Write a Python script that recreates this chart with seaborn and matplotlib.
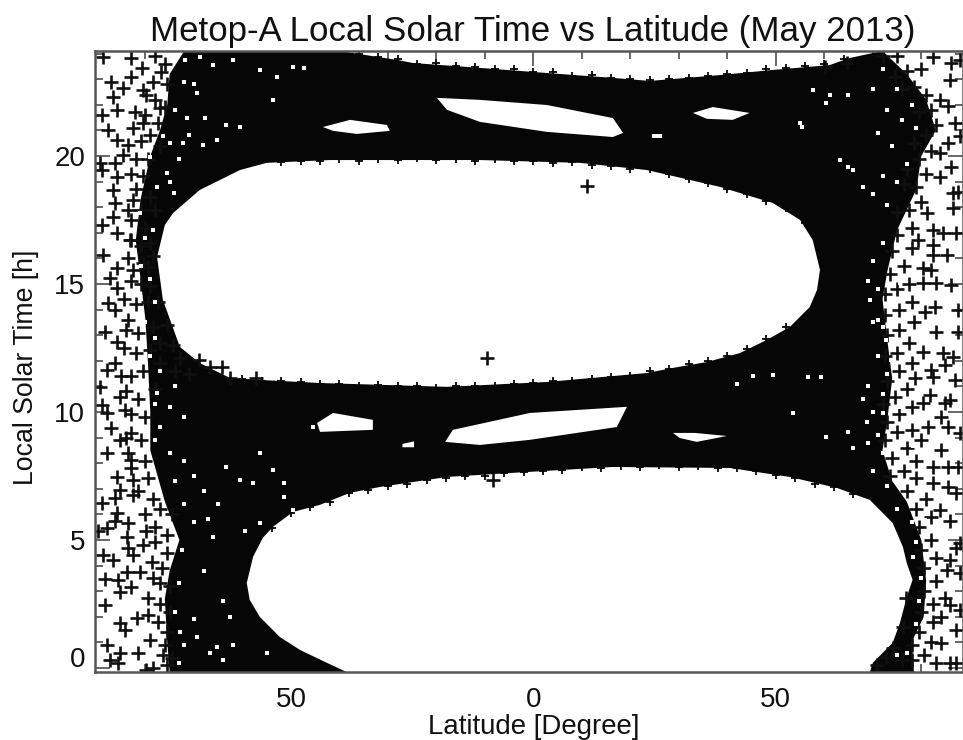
import matplotlib
matplotlib.use("Agg")
import matplotlib.pyplot as plt
import seaborn as sns
import pandas as pd

######## Values (lat in degree, lst in hours)
#! outline of the solid black swath
outer_lat = [-72.0,-39.9,-28.1,-24.8,-11.0,2.8,16.4,24.0,38.5,49.4,61.1,65.3,72.0,77.0,81.0,83.0,80.0,79.0,75.0,73.0,72.0,73.0,74.0,73.0,72.0,74.0,77.0,80.0,81.0,80.5,78.0,78.5,-75.0,-75.5,-76.0,-75.0,-73.0,-76.0,-79.0,-79.0,-79.5,-80.0,-81.0,-82.0,-81.0,-79.0,-77.0,-75.5,-75.0]
outer_lst = [24.1,24.1,23.75,23.63,23.44,23.24,23.05,22.93,23.16,23.36,23.55,23.83,24.1,23.2,22.2,21.0,20.0,18.7,17.1,15.5,14.4,12.8,11.3,9.7,8.5,7.3,6.5,5.0,3.4,2.0,1.0,-0.16,-0.16,1.0,2.7,3.8,5.0,6.5,8.5,10.0,12.0,13.6,15.2,16.7,18.3,20.0,21.0,22.0,23.2]

#! empty areas
upper_lat = [-77.6,-76.0,-74.3,-68.8,-60.5,-55.0,-42.0,-27.5,-11.0,9.6,23.4,38.5,49.4,55.0,57.6,59.1,58.5,57.0,52.9,48.1,42.6,35.8,28.8,23.4,2.8,-17.8,-44.0,-56.4,-62.6,-68.8,-72.9,-76.4]
upper_lst = [16.05,17.3,17.77,18.67,19.45,19.73,19.84,19.84,19.84,19.73,19.45,18.79,18.16,17.5,16.72,15.55,14.77,14.1,13.32,12.81,12.3,11.95,11.72,11.52,11.17,10.98,11.13,11.25,11.33,11.91,12.54,14.38]
lower_lat = [-59.1,-57.8,-55.8,-53.7,-49.6,-44.0,-37.8,-31.6,-17.8,-4.2,16.4,40.5,52.9,62.6,69.4,74.1,76.2,77.0,78.2,77.0,75.6,74.1,70.0,69.4,-38.5,-42.6,-48.1,-52.3,-56.4,-58.5]
lower_lst = [3.32,4.34,5.08,5.51,6.09,6.37,6.84,7.07,7.46,7.62,7.85,7.81,7.46,7.03,6.56,5.66,4.73,4.1,3.44,2.77,1.76,0.98,0.2,-0.16,-0.16,0.2,0.7,1.21,1.99,2.66]
hole_lat = [
    [-19.9,-11.0,2.8,16.4,18.5,16.4,2.8,-11.0,-17.8],
    [-43.4,-37.8,-30.2,-29.6,-36.4,-41.3],
    [32.9,37.0,44.6,41.1,35.8],
    [24.4,26.5,26.5,24.4],
    [-18.2,-16.6,-0.7,19.3,17.2,-0.7,-11.0],
    [-44.6,-41.3,-33.1,-33.1,-44.0],
    [-27.0,-24.6,-24.6,-27.0],
    [28.8,33.3,39.9,33.7,30.2],
]
hole_lst = [
    [22.27,22.19,21.99,21.48,20.9,20.74,20.94,21.33,21.8],
    [21.13,21.41,21.21,20.98,20.86,20.98],
    [21.68,21.91,21.68,21.41,21.45],
    [20.86,20.86,20.7,20.7],
    [8.83,9.3,9.96,10.2,9.41,8.91,8.71],
    [9.57,9.96,9.69,9.3,9.22],
    [8.75,8.85,8.62,8.62],
    [9.18,9.18,9.06,8.83,8.98],
]

#! single crosses on the left side
left_lat = [-88.7,-82.9,-80.8,-76.7,-82.9,-87.0,-84.6,-80.4,-86.6,-79.8,-85.9,-82.2,-89.0,-77.0,-87.7,-82.5,-85.9,-80.4,-83.5,-84.6,-89.4,-86.3,-89.0,-85.9,-86.6,-86.3,-82.5,-89.0,-86.6,-82.9,-85.9,-83.2,
            -88.7,-85.9,-82.5,-87.3,-85.9,-87.7,-86.3,-83.5,-88.4,-85.9,-86.3,-88.0,-89.4,-85.3,-88.0,-89.0,-84.2,-87.0,-82.9,-85.3,-88.0,-82.9,-85.9,-82.5,-85.3,-82.5,
            -75.6,-74.3,-72.9,-68.9,-66.7,-64.3,-62.6,-57.1,-77.4,-79.4,
            -89.0,-86.3,-85.9,-83.5,-86.3,-88.0,-89.7,-79.8,-83.9,-80.4,-83.5,-88.7,-86.6,-82.5,-78.7,-75.6,-83.9,-88.4,-81.1,-85.6,-82.9,-85.3,-77.0,-79.4,-88.4,-81.8,-79.4,-85.3,-84.2,-79.1,-88.0,-87.3,-85.3,-81.5,-85.6,-78.4,-76.3,-79.8,
            -78,-76,-78.5,-75.5,-78,-76,-80,-77.5,-79,-81,-77,-82,-79.5,-83,-80.5,-82,-79,-81,-78,-83.5,-80,-83,-81,-79,-83.5,-80.5,-78.5,-83,-81,-79,-84.5,-82,-79.5,-84,-81.5,-78.5,-84.5,-82,-79,-77,-85,-83,-80.5,-77,-74,-71,-84,-81.5,-78,-83,-80,-84,-81,-83.5,-80,-83,-79.5,-81.5,-78.5,-80,-77,-74.5,-78,-75.5,-78,-76.5,-78.5,-75,-77,-75,-77.5,-75.5,-76,-74.5,-75.5]
left_lst = [23.88,23.81,23.42,23.29,23.1,22.9,22.64,22.58,22.32,22.38,21.8,21.73,21.6,21.86,21.02,21.08,20.63,21.28,20.43,20.04,19.71,19.71,19.45,19.19,18.67,18.15,18.28,17.3,17.63,17.5,16.98,16.72,
            16.13,15.61,15.55,15.22,14.83,14.24,13.98,13.59,13.14,12.75,11.9,11.64,10.99,10.6,9.95,10.27,10.08,9.36,9.17,8.91,8.39,8.13,7.47,7.34,6.95,6.76,
            13.4,12.62,12.1,12.03,11.77,11.77,11.31,11.31,14.31,15.68,
            6.46,6.63,6.04,5.65,5.72,5.46,5.33,5.33,5.13,4.8,4.67,4.41,4.22,4.41,4.15,4.48,3.76,3.46,3.76,3.44,3.18,2.98,3.31,2.72,2.46,1.94,2.07,1.74,1.48,1.09,0.9,0.31,0.57,0.57,0.18,-0.01,0.51,-0.08,
            23.9,23.6,22.9,22.8,22.2,21.9,21.6,21.3,20.8,20.6,20.4,19.9,19.9,19.3,19.2,18.7,18.4,17.9,17.9,17.9,17.2,16.7,16.5,16.6,16.0,15.8,16.1,15.1,15,14.9,14.4,14.2,14.3,13.2,13.1,13.3,12.5,12.3,12.4,12.7,11.4,11.4,11.6,11.9,11.6,11.5,10.8,10.5,10.9,9.9,9.8,9.0,8.9,8.4,8.1,7.8,7.4,6.9,6.6,6,6.2,6,5.5,5.2,4.9,3.9,3.5,3.2,2.5,2.2,1.8,1.4,0.9,0.4,0.1]

#! single crosses on the right side
right_lat = [64.6,60.1,86.2,82.4,87.9,85.9,83.8,85.5,86.9,87.9,85.5,83.8,86.2,83.8,86.5,87.6,86.5,81.1,82.4,84.5,79.3,87.2,82.4,
             85.2,82.4,80.4,82.1,86.2,83.1,80.4,82.8,87.6,80.7,83.1,87.6,80.4,84.5,86.6,84.8,82.1,82.4,86.9,78.7,81.7,85.9,80.4,84.8,84.1,81.4,85.5,87.9,84.1,82.4,85.5,87.6,82.4,85.5,
             87.2,83.8,85.9,87.9,87.2,85.9,87.9,85.2,84.8,87.9,85.9,84.1,87.2,84.1,85.9,87.2,76.9,76.2,74.2,72.8,70.8,
             72,75,77,74.5,80,78.5,81,76,82,79.5,83,81,78.5,82,79.5,77,81,79,76.5,80,77.5,75,78,75,78,74,76.5,73.5,77.5,75,72.5,78,75.5,72.5,78.5,75.5,73,77.5,75,72.5,78,75.5,73,77,74.5,72,78,75.5,73,78,75,72.5,80,77,74,79,76.5,73.5,79,77,81,79,82,79.5,82,80,83,80.5,83,80.5,82.5,80,82.5,79.5,82,78,80.5,78,83,76]
right_lst = [23.62,23.49,23.62,23.88,23.75,22.97,22.19,21.95,21.28,20.77,20.5,20.1,19.58,19.19,18.54,18.61,17.96,17.76,17.11,16.98,16.72,16.98,16.52,
             16.13,16.13,15.61,15.55,14.96,15.03,15.03,14.11,13.98,13.92,13.14,13.14,12.36,12.29,12.16,11.84,11.64,11.38,11.25,11.31,10.66,10.47,10.34,10.34,9.82,9.43,9.43,9.17,8.52,7.86,7.86,7.86,7.21,7.08,
             6.82,6.17,5.72,4.87,4.67,4.22,3.7,3.83,2.72,2.27,2.46,2.0,1.48,0.96,0.18,0.18,2.72,1.61,0.77,0.44,0.12,
             23.9,23.9,23.3,23.1,23.4,22.7,22.4,22.6,21.8,21.7,21.2,20.8,20.5,20.2,19.9,19.5,19.3,18.8,18.9,18.2,17.9,17.8,17.2,16.9,16.4,16.3,15.7,15.4,15,14.8,14.6,14.3,14,13.8,13.5,13.2,13,12.7,12.3,12.2,11.9,11.6,11.2,10.9,10.6,10.3,10.2,9.9,9.6,9.3,9.2,8.9,8.9,8.6,8.2,8.1,7.7,7.5,7.4,6.9,6.6,6.2,5.9,5.5,5,4.6,4.3,3.9,3.4,3,2.5,2.2,1.8,1.4,1,0.9,0.5,0.3,0.2,0.3]

#! strays inside the empty areas
stray_lat = [11.0,-9.6,-8.4]
stray_lst = [18.83,12.1,7.34]

#! rough rim of the empty areas and the top of the swath
rim_lat = [-52,-48,-44,-40,-36,-32,-28,-24,-20,-16,-12,-8,-4,0,4,8,12,16,20,24,28,32,36,40,44,48,52,56,
           -64,-60,-56,-52,-48,-44,-40,-36,-32,-28,-24,-20,-16,-12,-8,-4,0,4,8,12,16,20,24,28,32,36,40,44,48,52,
           -54,-50,-46,-42,-38,-34,-30,-26,-22,-18,-14,-10,-6,-2,2,6,10,14,18,22,26,30,34,38,42,46,50,54,58,62,66,
           -36,-32,-28,-24,-20,-16,-12,-8,-4,0,4,8,12,16,20,24,28,32,36,40,44,48,52,56,60,64]
rim_lst = [19.76,19.82,19.8,19.88,19.82,19.9,19.85,19.92,19.85,19.9,19.82,19.88,19.8,19.82,19.74,19.76,19.66,19.62,19.5,19.48,19.3,19.1,18.95,18.72,18.5,18.25,17.95,17.4,
           11.3,11.28,11.2,11.2,11.15,11.1,11.1,11.0,11.05,11.0,11.02,10.95,11.0,11.02,11.0,11.1,11.12,11.2,11.22,11.3,11.38,11.42,11.58,11.68,11.88,11.98,12.2,12.45,12.85,13.3,
           5.45,6.05,6.3,6.5,6.82,6.95,7.12,7.2,7.35,7.42,7.5,7.48,7.6,7.65,7.7,7.72,7.85,7.82,7.9,7.85,7.92,7.85,7.9,7.8,7.82,7.68,7.55,7.42,7.2,7.05,6.8,
           24.0,23.85,23.8,23.6,23.62,23.5,23.48,23.38,23.4,23.28,23.28,23.12,23.16,23.05,23.02,22.95,23.02,23.05,23.14,23.2,23.25,23.38,23.45,23.5,23.6,23.8]

#! small gaps between the crosses
gap_lat = [-71.9,-68.8,-56.4,-49.5,-47.4,-71.5,-67.7,-63.3,-68.1,-72.2,-75,-76.3,-65.3,-60.5,-52.9,-66,-61.9,-69.4,-53.6,-79,-75.6,-77.7,-74.2,-81.1,-78.4,
           60.4,55,63.2,65.9,68,64.9,57.7,61.1,64.9,55.3,
           69.4,49.5,45.3,41.9,56.7,59.4,64.9,60.4,71,72.8,73.8,68.7,72.1,53.6,75.6,75.6,78.3,
           80.7,82.4,82.4,78.3,
           -66,-62.6,-66.7,-72.9,-69.4,-64,-59.5,-56.4,-51.5,-49.5,-65.3,
           -77.7,-79.7,-63.3,-53.6,-56.4,-60.5,-51.5,-45.4,-57.8,
           -73,-75,-71,-74,-70,-72,-80,-81,-79,-78,-80,-78,-79,-77,-74,-78,-77,-75,-72,-78,-75,-72,-70,-74,-68,-72,-65,-70,-67,-72.5,-73,-74,-72,-73,-62,-55,-68,-64,-70,
           72,75,78,73,70,76,79,71,74,72,77,75,70,73,72,70,69,71,70,72,71,73,69,72,70,68,71,69,72,66,70,73,75,78,79,80,79.5,77,75,79]
gap_lst = [23.75,23.88,23.36,23.49,23.42,21.47,21.47,21.21,20.43,20.49,20.49,20.76,20.63,21.15,23.1,23.55,23.75,22.45,22.19,19.97,19.32,18.8,18.54,17.76,17.1,
           22.06,21.28,19.84,19.45,18.8,19.58,22.57,22.38,22.38,21.15,
           14.37,11.45,11.41,11.08,11.38,11.38,9.23,9.04,13.59,12.81,12.03,9.62,9.95,9.95,15.03,10.21,8.65,
           5.78,1.42,3.83,4.34,
           5.13,2.0,0.57,1.42,1.22,0.31,5.33,5.65,6.69,6.17,0.83,
           10.73,8.65,7.86,7.73,8.39,7.34,7.21,9.43,7.21,
           19.9,19,20.8,21.8,22.8,22.9,16.8,15.7,15.2,14.3,13.5,12.9,12.2,11.6,11.0,10.3,9.4,10.2,9.8,8.9,8.4,8.1,7.5,7.3,6.9,6.4,6.4,5.7,5.8,4.6,3.3,2.2,0.9,0.2,0.9,0.6,3.8,2.6,1.9,
           23.4,22.6,22,21.8,22.6,21.4,21.1,20.9,20.4,19.2,19.7,19,18.5,18.1,16.6,15.9,15.1,14.8,13.5,13.3,12.2,11.5,11,10.7,10,10.5,9.1,8.8,8.4,8.6,7.7,7.1,6.2,5.7,4.9,3.5,2.6,0.6,0.5,1.7]

x_major = [-50,0,50]
x_labels = ["50","0","50"]
y_major = [0,5,10,15,20]
y_labels = ["","5","10","15","20"]

######### Plot
sns.set_theme(style="white")
plt.rcParams["font.family"] = ["Liberation Sans","DejaVu Sans"]

fig = plt.figure(figsize=(9.63,7.4),dpi=100)
ax = fig.add_axes([95/963,68/740,868/963,621/740])

ink = "#060606"
ax.fill(outer_lat,outer_lst,color=ink,lw=0,zorder=1)
ax.fill(upper_lat,upper_lst,color="white",lw=0,zorder=2)
ax.fill(lower_lat,lower_lst,color="white",lw=0,zorder=2)
for hx,hy in zip(hole_lat,hole_lst):
    ax.fill(hx,hy,color="white",lw=0,zorder=2)

pts = pd.DataFrame({"lat":left_lat+right_lat+stray_lat,"lst":left_lst+right_lst+stray_lst})
sns.scatterplot(data=pts,x="lat",y="lst",marker="+",s=115,color="#101010",linewidth=1.9,ax=ax,zorder=3,legend=False)
sns.scatterplot(x=rim_lat,y=rim_lst,marker="+",s=30,color=ink,linewidth=1.3,ax=ax,zorder=3,legend=False)
sns.scatterplot(x=gap_lat,y=gap_lst,marker="s",s=12,color="white",linewidth=0,ax=ax,zorder=4,legend=False)

ax.set_xlim(-90.4,88.6)
ax.set_ylim(-0.16,24.1)

#! Ticks and frame
ax.set_xticks(x_major,x_labels)
ax.set_yticks(y_major,y_labels)
ax.set_xticks(range(-80,90,10),minor=True)
ax.set_yticks(range(0,25),minor=True)
ax.tick_params(which="major",direction="in",length=11,width=1.4,color="#666666",top=True,right=True,bottom=True,left=True,labelsize=20,labelcolor="#111111")
ax.tick_params(which="minor",direction="in",length=5.5,width=1.4,color="#666666",top=True,right=True,bottom=True,left=True)
ax.tick_params(axis="x",which="major",pad=10.5)
ax.tick_params(axis="y",which="major",pad=7)
for s in ax.spines.values():
    s.set_color("#555555")
    s.set_linewidth(1.8)
    s.set_zorder(5)

#! zero label sits above its tick
ax.annotate("0",xy=(0,0),xycoords=("axes fraction","data"),xytext=(-7,6),textcoords="offset points",
            ha="right",va="center",fontsize=20,color="#111111")

ax.set_xlabel("Latitude [Degree]",fontsize=19.9,color="#111111")
ax.xaxis.set_label_coords(0.505,-0.067)
ax.set_ylabel("Local Solar Time [h]",fontsize=19.2,color="#111111")
ax.yaxis.set_label_coords(-0.064,0.491)
fig.text(533/963,1-31/740,"Metop-A Local Solar Time vs Latitude (May 2013)",fontsize=25.1,color="#111111",ha="center",va="center")

plt.savefig("out.png",dpi=100)
